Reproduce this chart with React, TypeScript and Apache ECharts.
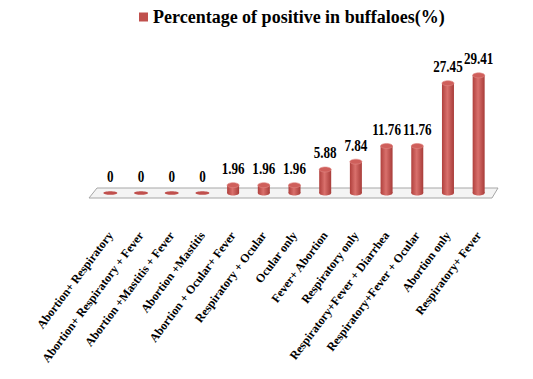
import React, { useEffect, useRef } from "react";
import * as echarts from "echarts";

const categories = [
  "Abortion+ Respiratory",
  "Abortion+ Respiratory + Fever",
  "Abortion +Mastitis + Fever",
  "Abortion +Mastitis",
  "Abortion + Ocular+ Fever",
  "Respiratory + Ocular",
  "Ocular only",
  "Fever+ Abortion",
  "Respiratory only",
  "Respiratory+Fever + Diarrhea",
  "Respiratory+Fever + Ocular",
  "Abortion only",
  "Respiratory+ Fever",
];
const values = [0, 0, 0, 0, 1.96, 1.96, 1.96, 5.88, 7.84, 11.76, 11.76, 27.45, 29.41];
const seriesName = "Percentage of positive in buffaloes(%)";

const FONT = "'Times New Roman', 'Liberation Serif', 'DejaVu Serif', serif";

export default function App() {
  const ref = useRef<HTMLDivElement>(null);
  useEffect(() => {
    const chart = echarts.init(ref.current!, null, { renderer: "svg" });
    const option: any = {
      animation: false,
      textStyle: { fontFamily: FONT },
      legend: {
        data: [{ name: seriesName, icon: "rect" }],
        top: 3,
        left: 134,
        itemWidth: 9,
        itemHeight: 9,
        itemGap: 4,
        textStyle: { fontFamily: FONT, fontWeight: "bold", fontSize: 18, color: "#000" },
      },
      grid: { left: 95, right: 39, top: 73, bottom: 186 },
      xAxis: {
        type: "category",
        data: categories,
        axisLine: { show: false },
        axisTick: { show: false },
        axisLabel: {
          interval: 0,
          rotate: 53,
          margin: 40,
          fontFamily: FONT,
          fontWeight: "bold",
          fontSize: 12,
          color: "#000",
        },
      },
      yAxis: { type: "value", min: 0, max: 30, show: false },
      series: [
        {
          name: seriesName,
          type: "custom",
          itemStyle: { color: "#C0504D" },
          data: values.map((v, i) => [i, v]),
          renderItem: (params: any, api: any) => {
            const i = api.value(0);
            const v = api.value(1);
            const top = api.coord([i, v]);
            const base = api.coord([i, 0]);
            const w = 12;
            const rx = w / 2;
            const ry = 2.5;
            const x = base[0];
            const children: any[] = [];
            const grad = new echarts.graphic.LinearGradient(0, 0, 1, 0, [
              { offset: 0, color: "#b0403d" },
              { offset: 0.45, color: "#d9706c" },
              { offset: 1, color: "#a83c39" },
            ]);
            if (v > 0) {
              children.push({
                type: "rect",
                shape: { x: x - rx, y: top[1], width: w, height: base[1] - top[1] },
                style: { fill: grad },
              });
              children.push({
                type: "ellipse",
                shape: { cx: x, cy: base[1], rx, ry },
                style: { fill: grad },
              });
              children.push({
                type: "ellipse",
                shape: { cx: x, cy: top[1], rx, ry },
                style: { fill: "#cf5f5b", stroke: "#e08a86", lineWidth: 0.6 },
              });
            } else {
              children.push({
                type: "ellipse",
                shape: { cx: x, cy: base[1], rx: rx + 1, ry: 1.8 },
                style: { fill: "#c0504d" },
              });
            }
            children.push({
              type: "text",
              x: x,
              y: top[1] - 16.5,
              scaleX: 0.82,
              style: {
                text: String(v),
                x: 0,
                y: 0,
                align: "center",
                verticalAlign: "middle",
                fontFamily: FONT,
                fontWeight: "bold",
                fontSize: 16,
                fill: "#000",
              },
            });
            return { type: "group", children };
          },
        },
      ],
    };
    chart.setOption(option);
    const c0 = chart.convertToPixel({ xAxisIndex: 0 }, 0) as number;
    const c1 = chart.convertToPixel({ xAxisIndex: 0 }, 1) as number;
    const cn = chart.convertToPixel({ xAxisIndex: 0 }, categories.length - 1) as number;
    const y0 = chart.convertToPixel({ yAxisIndex: 0 }, 0) as number;
    const band = c1 - c0;
    const l = c0 - band / 2;
    const r = cn + band / 2;
    chart.setOption({
      graphic: [
        {
          type: "polygon",
          z: 0,
          shape: {
            points: [
              [l - 6, y0 + 5],
              [l + 2, y0 - 5],
              [r + 4, y0 - 5],
              [r - 2, y0 + 5],
            ],
          },
          style: { fill: "#f4f4f4", stroke: "#a6a6a6", lineWidth: 1 },
        },
      ],
    });
    return () => chart.dispose();
  }, []);
  return (
    <div
      ref={ref}
      style={{ position: "absolute", left: 0, top: 0, width: 533, height: 379 }}
    />
  );
}
